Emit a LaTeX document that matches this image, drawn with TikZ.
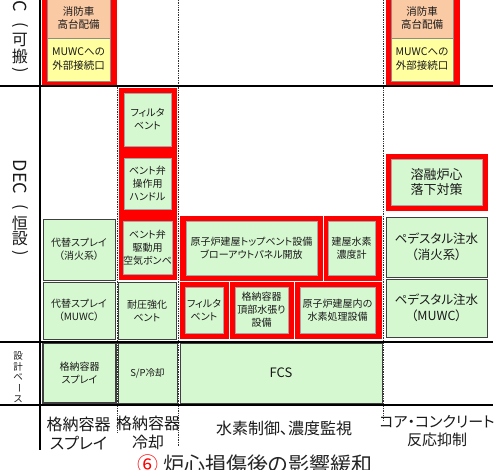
\documentclass[tikz,border=0pt]{standalone}
\usepackage{fontspec}
\setmainfont{Noto Sans CJK JP}[RawFeature={+palt}]
\definecolor{peach}{RGB}{250,202,165}
\definecolor{lyel}{RGB}{255,255,160}
\definecolor{lgrn}{RGB}{214,248,208}
\definecolor{txt}{RGB}{25,25,25}
\newcommand\fsz[2]{\fontsize{#1}{#2}\selectfont}
\newcommand\bnode[7]{\node[#2, minimum width={#5-#3}, minimum height={#6-#4}] (#1) at ({(#3+#5)/2},{(#4+#6)/2}) {#7};}
\tikzset{
  base/.style={inner sep=0pt, outer sep=0pt, align=center, text=txt, font=\fsz{10}{13}},
  gbox/.style={base, draw=black!75, line width=0.8pt, fill=lgrn},
  ibox/.style={base, draw=black!35, line width=0.5pt, fill=lgrn},
  obox/.style={base, draw=black!45, line width=0.5pt, fill=peach, font=\fsz{10.5}{12.5}},
  ybox/.style={base, draw=black!45, line width=0.5pt, fill=lyel, font=\fsz{10.5}{14}},
  redcell/.style={base, fill=red, draw=white, line width=0.8pt},
  grid/.style={line width=2.6pt, black},
  sep/.style={densely dotted, line width=0.7pt, black!80},
  vlab/.style={inner sep=0pt, text=txt, font=\fsz{16}{16}},
  blab/.style={inner sep=0pt, align=center, text=txt, font=\fsz{16}{18.5}}
}
\begin{document}
\begin{tikzpicture}[x=1pt,y=-1pt]
\useasboundingbox[fill=white] (0,0) rectangle (500,469);
\clip (0,0) rectangle (500,469);
% dotted separators
\coordinate (s1t) at (117,0); \coordinate (s1b) at (117,432);
\coordinate (s2t) at (178,0); \coordinate (s2b) at (178,447);
\coordinate (s3t) at (383,0); \coordinate (s3b) at (383,420);
\draw[sep] (s1t) -- (s1b);
\draw[sep] (s2t) -- (s2b);
\draw[sep] (s3t) -- (s3b);
% SA (portable) boxes
\bnode{saL}{redcell}{41}{-5}{117}{86}{}
\bnode{saLo}{obox}{47}{-2}{110}{38}{消防車\\高台配備}
\bnode{saLy}{ybox}{47}{38}{110}{81}{MUWCへの\\外部接続口}
\bnode{saR}{redcell}{385}{-5}{460}{86}{}
\bnode{saRo}{obox}{391}{-2}{453}{38}{消防車\\高台配備}
\bnode{saRy}{ybox}{391}{38}{453}{81}{MUWCへの\\外部接続口}
% red column
\bnode{rc}{redcell}{118}{87}{177}{280}{}
\bnode{rc1}{ibox}{124}{93}{171}{146}{フィルタ\\ベント}
\bnode{rc2}{ibox}{124}{158}{171}{209}{ベント弁\\操作用\\ハンドル}
\bnode{rc3}{ibox}{124}{221}{171}{274}{ベント弁\\駆動用\\空気ボンベ}
% left column
\bnode{alt1}{gbox}{43}{219}{115}{280}{代替スプレイ\\（消火系）}
\bnode{alt2}{gbox}{43}{282}{115}{339}{代替スプレイ\\（MUWC）}
\bnode{hv}{gbox}{118}{282}{176}{339}{耐圧強化\\ベント}
% big red block
\bnode{cA}{redcell}{179}{215}{323}{281}{}
\bnode{cB}{redcell}{323}{215}{382}{281}{}
\bnode{cC}{redcell}{179}{281}{229}{339}{}
\bnode{cD}{redcell}{229}{281}{294}{339}{}
\bnode{cE}{redcell}{294}{281}{382}{339}{}
\bnode{iA}{ibox}{186}{221}{317}{275}{原子炉建屋トップベント設備\\ブローアウトパネル開放}
\bnode{iB}{ibox}{328}{221}{375}{275}{建屋水素\\濃度計}
\bnode{iC}{ibox}{185}{287}{223}{333}{フィルタ\\ベント}
\bnode{iD}{ibox}{235}{287}{288}{333}{格納容器\\頂部水張り\\設備}
\bnode{iE}{ibox}{300}{287}{375}{333}{原子炉建屋内の\\水素処理設備}
% right column
\bnode{mc}{redcell}{385}{153}{488}{211}{}
\bnode{mci}{ibox, font=\fsz{13}{15.5}}{391}{159}{482}{205}{溶融炉心\\落下対策}
\bnode{pd1}{gbox, font=\fsz{12.5}{15.5}}{386}{217}{487}{277}{ペデスタル注水\\（消火系）}
\bnode{pd2}{gbox, font=\fsz{12.5}{15.5}}{386}{279}{487}{337}{ペデスタル注水\\（MUWC）}
% design base row
\bnode{db1}{gbox, line width=1.2pt, font=\fsz{10}{13}}{43}{343}{116}{403}{格納容器\\スプレイ}
\bnode{db2}{gbox, font=\fsz{9.5}{12}}{118}{343}{177}{403}{S/P冷却}
\bnode{db3}{gbox, font=\fsz{13}{15}}{180}{343}{382}{403}{FCS}
% grid lines
\draw[grid] (0,86) -- (493,86);
\draw[grid] (0,342) -- (493,342);
\draw[grid] (0,405) -- (493,405);
\draw[grid] (40,0) -- (40,450);
% left vertical labels
\node[vlab, font=\fsz{18}{18}, rotate=-90] (v1a) at (20,-5) {DEC};
\node[vlab, rotate=-90] (v1b) at (20,25) {(};
\node[vlab] (v1c) at (20,40) {可};
\node[vlab] (v1d) at (20,56) {搬};
\node[vlab, rotate=-90] (v1e) at (20,70) {)};
\node[vlab, font=\fsz{18}{18}, rotate=-90] (v2a) at (20,177) {DEC};
\node[vlab, rotate=-90] (v2b) at (20,207) {(};
\node[vlab] (v2c) at (20,223) {恒};
\node[vlab] (v2d) at (20,239) {設};
\node[vlab, rotate=-90] (v2e) at (20,253) {)};
\node[vlab, font=\fsz{9.5}{9.5}] (v3a) at (18,356) {設};
\node[vlab, font=\fsz{9.5}{9.5}] (v3b) at (18,366.5) {計};
\node[vlab, font=\fsz{9.5}{9.5}] (v3c) at (18,377) {ベ};
\node[vlab, font=\fsz{9.5}{9.5}, rotate=-90] (v3d) at (18,388) {ー};
\node[vlab, font=\fsz{9.5}{9.5}] (v3e) at (18,399) {ス};
% bottom labels
\node[blab] (b1) at (78.5,433.5) {格納容器\\スプレイ};
\node[blab] (b2) at (148,433) {格納容器\\冷却};
\node[blab] (b3) at (284,428) {水素制御、濃度監視};
\node[blab, font=\fsz{15}{18}] (b4) at (437,431) {コア・コンクリート\\反応抑制};
% title
\node[inner sep=0pt, anchor=base, text=black!85, font=\fsz{21}{21}] (title) at (255,472) {{\color{red}⑥} 炉心損傷後の影響緩和};
\end{tikzpicture}
\end{document}
